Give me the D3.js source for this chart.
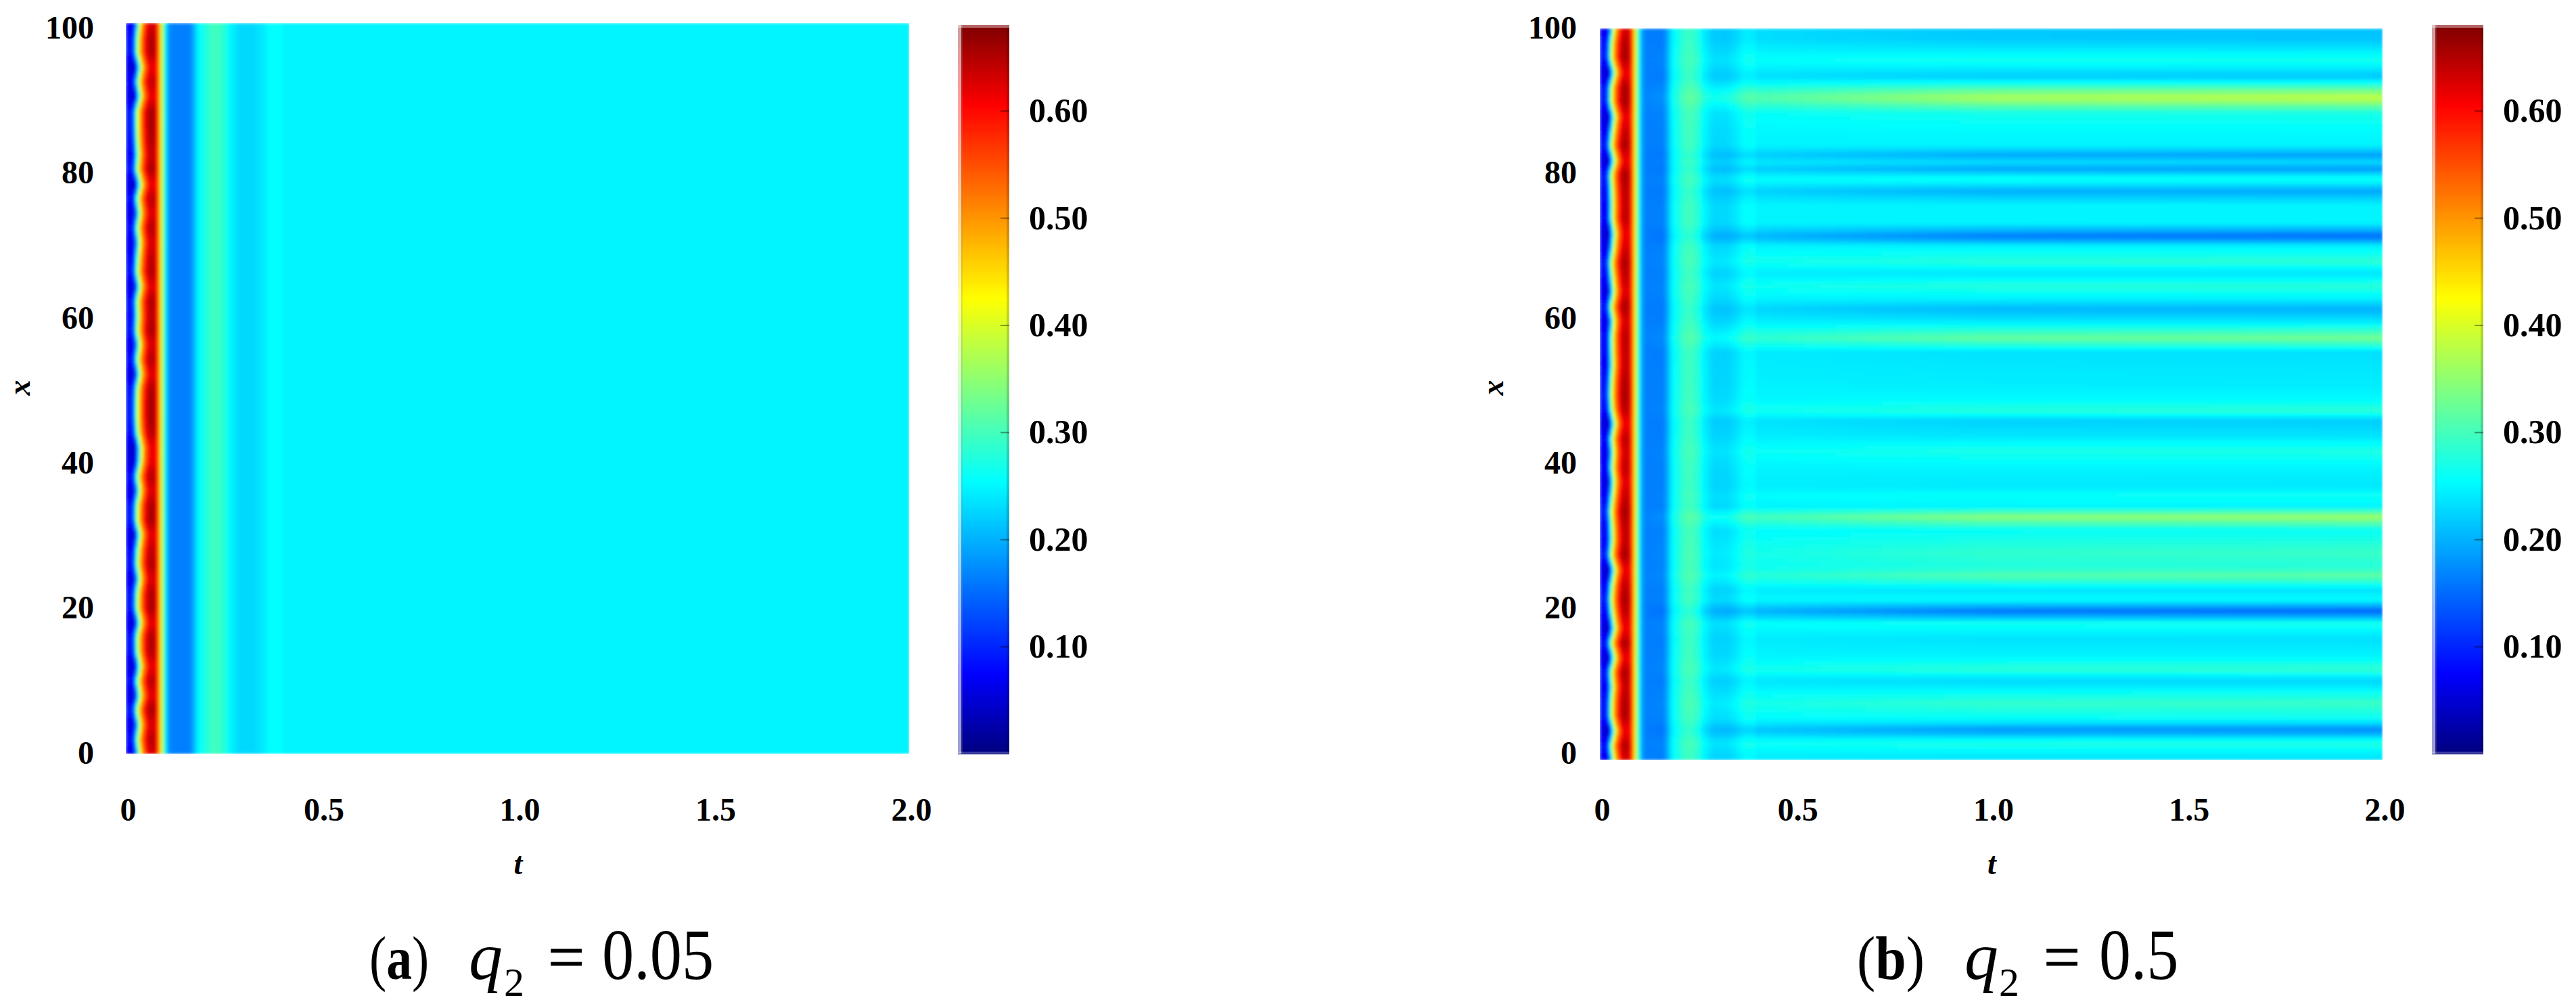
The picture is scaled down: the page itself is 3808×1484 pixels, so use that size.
<!DOCTYPE html>
<html><head><meta charset="utf-8">
<script src="https://cdn.jsdelivr.net/npm/d3@7/dist/d3.min.js"></script>
<style>
html,body{margin:0;padding:0;background:#fff;overflow:hidden}
svg{display:block}
text{font-family:"Liberation Serif",serif;fill:#000}
</style></head><body>
<svg id="c" width="3808" height="1484"></svg>
<script>
// ---- values ----
const xTicks = [0, 20, 40, 60, 80, 100];
const tTicks = [0, 0.5, 1.0, 1.5, 2.0];
const cbTicks = [0.1, 0.2, 0.3, 0.4, 0.5, 0.6];
const cbDomain = [0, 0.68];
// jet colour stops
const jetValues = [0, 0.075, 0.255, 0.425, 0.605, 0.68];
const jetColors = ["#00007f", "#0000ff", "#00ffff", "#ffff00", "#ff0000", "#7f0000"];
// column profile over t (same in both panels)
const profileT = [0, .0155, .024, .03, .037, .044, .053, .0645, .079, .0846, .09, .098, .105, .116, .162, .174, .185, .214, .231, .252, .266, .29, .325, .35, .37, .395, .41, 2];
const profileV = [.09, .06, .12, .27, .42, .52, .60, .645, .61, .52, .42, .30, .20, .165, .165, .20, .25, .29, .30, .28, .25, .228, .228, .24, .256, .256, .248, .248];
// ripple of the early ridge along x (+ = thick dark red, - = pinched)
const rippleX = [0,2,4,6,8,10,12,14,16,18,20,22,24,26,28,30,32,34,36,38,40,42,44,46,48,50,52,54,56,58,60,62,64,66,68,70,72,74,76,78,80,82,84,86,88,90,92,94,96,98,100];
const rippleA = [-.3,.6,-.4,.9,-.6,.5,-.8,.6,.7,-.7,.8,.7,-.4,.7,.3,-.7,.9,.8,-.4,.6,-.8,-1,.5,.9,.9,.7,-.6,.6,-.3,.8,.4,.7,-.6,.7,.3,-.3,.6,-.5,.5,-1,.8,.2,.7,.9,.9,-.9,.3,-1,.7,.6,-.2];
const rippleB = [-.3,.7,-1,.8,.7,.1,.8,-.9,.9,-1,.2,.9,.3,-1,1,.2,.4,1,.2,-.5,.3,-.2,.4,-1,.5,.9,.6,.1,.3,.4,-.3,.9,-.5,.2,.9,-.2,-.9,.3,.2,.4,.9,-.9,.9,.1,-.9,.9,.8,-1,.9,.7,-.3];
const rippleWeightT = [0, .02, .03, .05, .065, .08, .1];
const rippleWeightV = [1, 1, 0, .5, 1, .5, 0];
const flankWeightV = [1, 1, 1, .8, .2, .1, 0];
// panel b: horizontal bands, value at t = 2 along x
const bandX = [0.6,2.4,4.1,5.6,7.8,10.9,12.4,14.2,16.6,18.7,20.4,21.9,23.3,25.2,26.5,28.3,31.5,33.2,34.7,36.1,37.5,40,42.3,44.2,46.5,47.7,49.4,51.2,53.7,55.8,57.7,59.7,61.6,63.2,64.9,66.5,68.2,70.2,71.6,73.4,75.9,77.8,79.5,80.8,81.8,82.7,84.1,86.2,88.6,90.6,93.4,95.7,98.6];
const bandV = [.24,.28,.17,.26,.295,.225,.29,.25,.235,.27,.14,.26,.235,.32,.28,.295,.26,.36,.25,.265,.24,.25,.275,.24,.22,.285,.255,.245,.24,.235,.335,.25,.20,.25,.285,.235,.285,.25,.15,.25,.25,.195,.27,.185,.23,.19,.25,.255,.275,.39,.215,.27,.215];
const bandGrowthT = [0, .1, .15, .2, .25, .3, .4, .7, 1, 2];
const bandGrowthV = [0, 0, .08, .1, .2, .3, .45, .68, .88, 1];
const plateau = 0.25;
const captions = [{tag:"(", bold:"a", end:")", num:"0.05"}, {tag:"(", bold:"b", end:")", num:"0.5"}];

// ---- layout ----
const panels = [
 {id:"a", l:186, r:1344, t:34, b:1114, axisR:139, tickL:189, tickR:1347, cbL:1416, xName:32, ripple:rippleA, bands:false,
  cap:{x:546,sx:.84,q:693,s:745,e:810,n:890,nsx:.89}},
 {id:"b", l:2365, r:3522, t:42, b:1123, axisR:2331, tickL:2368, tickR:3525, cbL:3595, xName:2210, ripple:rippleB, bands:true,
  cap:{x:2745,sx:.91,q:2904,s:2955,e:3021,n:3103,nsx:.886}}
];
const svg = d3.select("#c");
const color = d3.scaleLinear().domain(jetValues).range(jetColors).clamp(true);
const profile = d3.scaleLinear().domain(profileT).range(profileV).clamp(true);
const weight = d3.scaleLinear().domain(rippleWeightT).range(rippleWeightV).clamp(true);
const flank = d3.scaleLinear().domain(rippleWeightT).range(flankWeightV).clamp(true);
const bandAt = d3.scaleLinear().domain(bandX).range(bandV).clamp(true);
const growth = d3.scaleLinear().domain(bandGrowthT).range(bandGrowthV).clamp(true);
const tEdges = [...d3.range(0, .4, .005), ...d3.range(.4, 2.0001, .04)];
const xEdges = d3.range(0, 100.001, .5);
const cbY = d3.scaleLinear().domain(cbDomain).range([1114, 37]);
const labelY = d3.scaleLinear().domain([0, 100]).range([1113, 41]);

const defs = svg.append("defs");
panels.forEach((p, pi) => {
  const fx = d3.scaleLinear().domain([0, 2]).range([p.l, p.r]);
  const fy = d3.scaleLinear().domain([0, 100]).range([p.b, p.t]);
  const rip = d3.scaleLinear().domain(rippleX).range(p.ripple);
  const value = (t, x) => {
    const r = rip(x);
    let v = profile(t + .005 * r * flank(t)) + .025 * r * weight(t);
    if (p.bands) v += (bandAt(x) - plateau) * growth(t);
    return v;
  };
  defs.append("filter").attr("id", "soft" + p.id)
    .attr("filterUnits", "userSpaceOnUse")
    .attr("x", p.l).attr("y", p.t).attr("width", p.r - p.l).attr("height", p.b - p.t)
    .append("feGaussianBlur").attr("stdDeviation", 2.2);
  const cells = [];
  for (let i = 0; i < xEdges.length - 1; i++)
    for (let j = 0; j < tEdges.length - 1; j++)
      cells.push({t0: tEdges[j], t1: tEdges[j + 1], x0: xEdges[i], x1: xEdges[i + 1]});
  svg.append("g").attr("filter", `url(#soft${p.id})`).attr("shape-rendering", "crispEdges")
    .selectAll("rect").data(cells).join("rect")
    .attr("x", d => fx(d.t0))
    .attr("y", d => fy(d.x1))
    .attr("width", d => fx(d.t1) - fx(d.t0) + .6)
    .attr("height", d => fy(d.x0) - fy(d.x1) + .6)
    .attr("fill", d => color(value((d.t0 + d.t1) / 2, (d.x0 + d.x1) / 2)));

  // axes
  const lx = d3.scaleLinear().domain([0, 2]).range([p.tickL, p.tickR]);
  const ax = svg.append("g").attr("transform", `translate(0,1179)`)
    .call(d3.axisBottom(lx).tickValues(tTicks).tickSize(0).tickPadding(0).tickFormat(d => d === 0 ? "0" : d3.format(".1f")(d)));
  const ay = svg.append("g").attr("transform", `translate(${p.axisR},0)`)
    .call(d3.axisLeft(labelY).tickValues(xTicks).tickSize(0).tickPadding(0));
  [ax, ay].forEach(g => { g.select(".domain").remove();
    g.attr("font-family", null).attr("font-size", null);
    g.selectAll("text").style("font-size", "48px").style("font-weight", "bold").style("font-family", '"Liberation Serif",serif'); });

  svg.append("text").attr("x", (p.tickL + p.tickR) / 2 - 2).attr("y", 1292).attr("text-anchor", "middle")
    .style("font-size", "46px").style("font-style", "italic").style("font-weight", "bold").text("t");
  svg.append("text").attr("transform", `translate(${p.xName + 12},573) rotate(-90)`).attr("text-anchor", "middle")
    .style("font-size", "46px").style("font-style", "italic").style("font-weight", "bold").text("x");

  // colour bar
  const cbW = 76, levels = d3.range(cbDomain[0], cbDomain[1], .002);
  const bar = svg.append("g").attr("shape-rendering", "crispEdges");
  bar.selectAll("rect").data(levels).join("rect")
    .attr("x", p.cbL).attr("width", cbW)
    .attr("y", d => cbY(d + .002)).attr("height", d => cbY(d) - cbY(d + .002) + .6)
    .attr("fill", d => color(d + .001));
  bar.append("rect").attr("x", p.cbL).attr("y", 37).attr("width", 5).attr("height", 1077).attr("fill", "#fff").attr("opacity", .62);
  bar.append("rect").attr("x", p.cbL + 5).attr("y", 37).attr("width", 2).attr("height", 1077).attr("fill", "#888").attr("opacity", .25);
  bar.append("rect").attr("x", p.cbL + cbW - 4).attr("y", 37).attr("width", 4).attr("height", 1077).attr("fill", "#000").attr("opacity", .16);
  bar.append("rect").attr("x", p.cbL).attr("y", 37).attr("width", cbW).attr("height", 4).attr("fill", "#fff").attr("opacity", .4);
  bar.append("rect").attr("x", p.cbL).attr("y", 1111).attr("width", cbW).attr("height", 3).attr("fill", "#fff").attr("opacity", .25);
  const ac = svg.append("g").attr("transform", `translate(${p.cbL + cbW},0)`)
    .call(d3.axisRight(cbY).tickValues(cbTicks).tickSize(-13).tickPadding(29).tickFormat(d3.format(".2f")));
  ac.select(".domain").remove();
  ac.attr("font-family", null).attr("font-size", null);
  ac.selectAll("line").attr("stroke", "#000").attr("stroke-opacity", .4).attr("stroke-width", 2);
  ac.selectAll("text").style("font-size", "50px").style("font-weight", "bold").style("font-family", '"Liberation Serif",serif');

  // caption
  const c = p.cap, cd = captions[pi];
  const tag = svg.append("text").attr("transform", `translate(${c.x},1447) scale(${c.sx},1)`).style("font-size", "90px");
  tag.append("tspan").text(cd.tag);
  tag.append("tspan").style("font-weight", "bold").text(cd.bold);
  tag.append("tspan").text(cd.end);
  svg.append("text").attr("x", c.q).attr("y", 1447).style("font-size", "100px").style("font-style", "italic").text("q");
  svg.append("text").attr("x", c.s).attr("y", 1472).style("font-size", "60px").text("2");
  svg.append("text").attr("x", c.e).attr("y", 1447).style("font-size", "96px").style("stroke", "#000").style("stroke-width", 1).text("=");
  svg.append("text").attr("transform", `translate(${c.n},1447) scale(${c.nsx},1)`).style("font-size", "106px").text(cd.num);
});
</script>
</body></html>
